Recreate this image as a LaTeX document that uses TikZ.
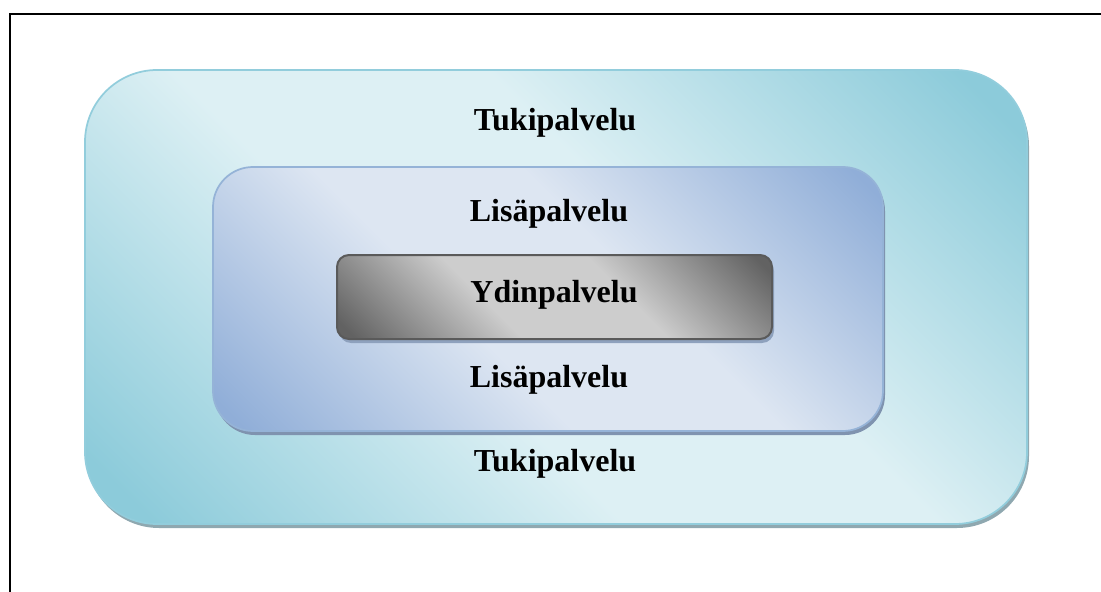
\documentclass[tikz,border=0pt]{standalone}
\usepackage{fontspec}
\setmainfont{Liberation Serif}

\definecolor{tukiline}{HTML}{92CDDC}
\definecolor{tukidark}{HTML}{8CCBDA}
\definecolor{tukilight}{HTML}{DDF0F4}
\definecolor{tukishadow}{HTML}{8FA8B0}
\definecolor{lisaline}{HTML}{95B3D7}
\definecolor{lisadark}{HTML}{90AED8}
\definecolor{lisalight}{HTML}{DDE6F2}
\definecolor{lisashadow}{HTML}{7F93AF}
\definecolor{ydinline}{HTML}{5A5A5A}
\definecolor{ydindark}{HTML}{626262}
\definecolor{ydinlight}{HTML}{CDCDCD}
\definecolor{ydinshadow}{HTML}{8EA1BD}

\pgfdeclarehorizontalshading{tukishade}{100bp}{color(0bp)=(tukidark); color(18bp)=(tukidark); color(42bp)=(tukilight); color(58bp)=(tukilight); color(82bp)=(tukidark); color(100bp)=(tukidark)}
\pgfdeclarehorizontalshading{lisashade}{100bp}{color(0bp)=(lisadark); color(17bp)=(lisadark); color(42bp)=(lisalight); color(58bp)=(lisalight); color(83bp)=(lisadark); color(100bp)=(lisadark)}
\pgfdeclarehorizontalshading{ydinshade}{100bp}{color(0bp)=(ydindark); color(17bp)=(ydindark); color(40bp)=(ydinlight); color(60bp)=(ydinlight); color(83bp)=(ydindark); color(100bp)=(ydindark)}

\tikzset{
  boxtext/.style = {font=\fontsize{24}{28}\selectfont\bfseries, anchor=base, inner sep=0pt},
  layer/.style 2 args = {draw=#1, line width=1.3pt, shading=#2, shading angle=45},
}

\begin{document}
\begin{tikzpicture}[x=0.75pt, y=-0.75pt]
	 \useasboundingbox (0, 0) rectangle (1101, 592);
	 \draw[line width=1.5pt] (10, 592) -- (10, 14) -- (1101, 14);
	 
	 % tukipalvelu
	 \fill[tukishadow, rounded corners=54pt] (87, 74) rectangle (1029, 528);
	 \path[layer={tukiline}{tukishade}, rounded corners=54pt] (85, 70) rectangle (1027, 524);
	 
	 % lisapalvelu
	 \fill[lisashadow, rounded corners=30pt] (215, 171) rectangle (885, 435);
	 \path[layer={lisaline}{lisashade}, rounded corners=30pt] (213, 167) rectangle (883, 431);
	 
	 % ydinpalvelu
	 \fill[ydinshadow, rounded corners=9pt] (339, 259) rectangle (774, 343);
	 \path[layer={ydinline}{ydinshade}, rounded corners=9pt, line width=1.5pt] (337, 255) rectangle (772, 339);
	 
	 \node[boxtext] (tuki1) at (555, 131) {Tukipalvelu};
	 \node[boxtext] (lisa1) at (549, 221) {Lisäpalvelu};
	 \node[boxtext] (ydin) at (554, 302) {Ydinpalvelu};
	 \node[boxtext] (lisa2) at (549, 387) {Lisäpalvelu};
	 \node[boxtext] (tuki2) at (555, 471) {Tukipalvelu};
\end{tikzpicture}
\end{document}
